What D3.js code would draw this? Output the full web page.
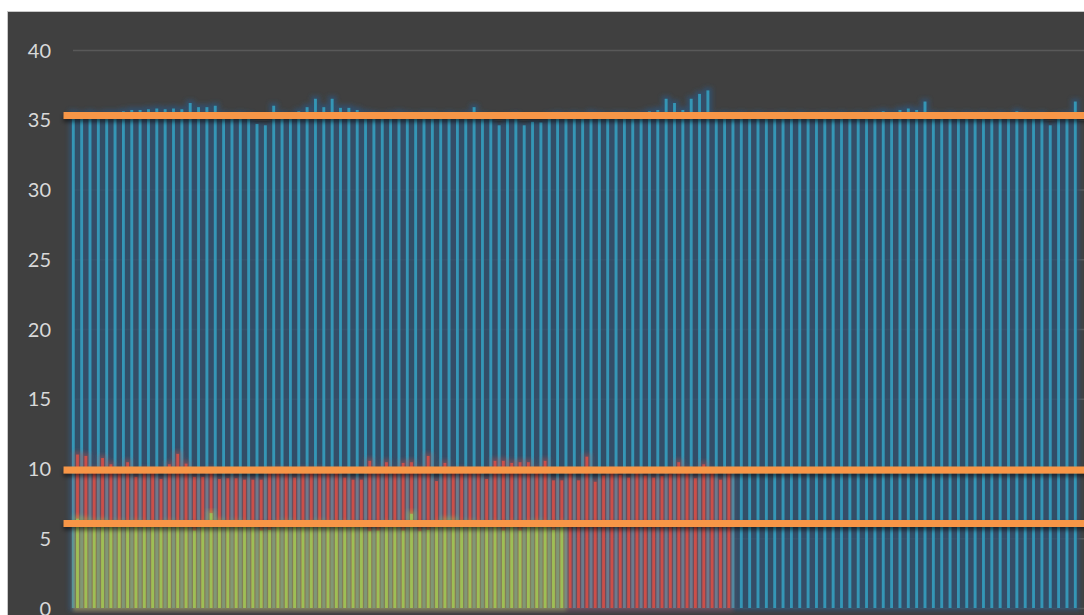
<!DOCTYPE html>
<html lang="en">
<head>
<meta charset="UTF-8">
<title>Bars with reference levels</title>
<script src="https://cdn.jsdelivr.net/npm/d3@7"></script>
<style>
    html, body {
        margin: 0;
        padding: 0;
        background: #ffffff;
        overflow: hidden;
    }
    .tick text {
        font-family: Lato, "Open Sans", sans-serif;
        font-size: 20px;
        fill: #d9d9d9;
    }
</style>
</head>
<body>
<div id="chart"></div>
<script>
    // values
    const blueValues = [
        35.5, 35.4, 35.5, 35.4, 35.5, 35.5, 35.6, 35.7, 35.7, 35.75,
        35.8, 35.75, 35.8, 35.75, 36.2, 35.9, 35.9, 36.0, 35.4, 35.3,
        35.4, 35.3, 34.7, 34.6, 36.0, 35.4, 35.3, 35.6, 35.9, 36.5,
        35.9, 36.5, 35.85, 35.85, 35.7, 35.5, 35.4, 35.3, 35.4, 35.5,
        35.4, 35.3, 35.4, 35.4, 35.3, 35.4, 35.3, 35.4, 35.9, 35.3,
        35.2, 34.6, 35.2, 35.3, 34.6, 34.85, 34.8, 35.3, 35.4, 35.3,
        35.4, 35.3, 35.5, 35.4, 35.3, 35.4, 35.4, 35.3, 35.4, 35.6,
        35.7, 36.5, 36.2, 35.7, 36.5, 36.85, 37.1, 35.3, 35.4, 35.3,
        35.4, 35.3, 35.4, 35.3, 35.3, 35.4, 35.3, 35.4, 35.3, 35.3,
        35.4, 35.3, 35.4, 35.3, 35.4, 35.3, 35.5, 35.6, 35.5, 35.7,
        35.8, 35.7, 36.3, 35.4, 35.3, 35.4, 35.3, 35.4, 35.3, 35.4,
        35.3, 35.4, 35.3, 35.6, 35.4, 35.3, 35.4, 34.6, 35.3, 35.4,
        36.3
    ];
    const redValues = [
        11.0, 10.9, 9.9, 10.75, 10.3, 9.8, 10.45, 9.4, 9.9, 9.8,
        9.25, 10.3, 11.05, 10.35, 9.4, 9.4, 9.9, 9.25, 9.3, 9.3,
        9.2, 9.2, 9.2, 9.8, 9.9, 9.8, 9.35, 9.9, 9.8, 9.9,
        9.7, 9.8, 9.35, 9.2, 9.2, 10.55, 9.9, 10.45, 9.8, 10.4,
        10.45, 9.9, 10.9, 9.1, 10.4, 9.8, 9.9, 9.7, 9.8, 9.25,
        10.55, 10.55, 10.4, 10.45, 10.45, 9.9, 10.55, 9.15, 9.15, 9.8,
        9.15, 10.85, 9.05, 9.5, 9.8, 9.55, 9.35, 9.8, 9.5, 9.35,
        9.45, 9.6, 10.45, 9.9, 9.3, 10.3, 9.8, 9.2, 9.8
    ];
    const greenValues = [
        6.4, 6.3, 6.1, 6.2, 6.0, 6.1, 6.0, 6.1, 6.0, 5.9,
        6.0, 6.1, 6.0, 5.9, 5.55, 6.0, 6.8, 6.2, 6.0, 6.1,
        6.0, 5.9, 5.55, 5.6, 6.0, 6.1, 6.0, 5.9, 6.0, 6.1,
        6.0, 5.9, 6.0, 5.9, 5.8, 5.5, 5.55, 6.0, 5.9, 5.55,
        6.75, 5.5, 5.6, 6.0, 6.3, 6.3, 6.0, 6.1, 6.0, 5.9,
        6.0, 5.55, 6.0, 5.55, 6.0, 6.1, 6.0, 5.6, 6.0
    ];
    const refLevels = [35.3, 9.9, 6.05];
    const yTicks = [0, 5, 10, 15, 20, 25, 30, 35, 40];
    const categoryCount = 122;

    const width = 1084, height = 615;
    const margin = {left: 69, top: 50, bottom: 7};

    const svg = d3.select("#chart").append("svg")
        .attr("width", width)
        .attr("height", height);

    const defs = svg.append("defs");

    // excel style glow round each series
    function glow(id, color, opacity) {
        const f = defs.append("filter").attr("id", id)
            .attr("x", "-5%").attr("y", "-5%").attr("width", "110%").attr("height", "110%");
        f.append("feMorphology").attr("in", "SourceAlpha").attr("operator", "dilate")
            .attr("radius", 2.6).attr("result", "d");
        f.append("feGaussianBlur").attr("in", "d").attr("stdDeviation", 2.2).attr("result", "b");
        f.append("feFlood").attr("flood-color", color).attr("flood-opacity", opacity);
        f.append("feComposite").attr("in2", "b").attr("operator", "in").attr("result", "g");
        const m = f.append("feMerge");
        m.append("feMergeNode").attr("in", "g");
        m.append("feMergeNode").attr("in", "SourceGraphic");
    }
    glow("glowBlue", "#31506f", 0.85);
    glow("glowRed", "#c0504d", 0.4);
    glow("glowGreen", "#9bbb59", 0.45);

    const shadow = defs.append("filter").attr("id", "lineShadow")
        .attr("x", "-5%").attr("y", "-100%").attr("width", "110%").attr("height", "400%");
    shadow.append("feDropShadow").attr("dx", 0).attr("dy", 3)
        .attr("stdDeviation", 2).attr("flood-color", "#000").attr("flood-opacity", 0.55);

    // chart area
    svg.append("rect")
        .attr("x", 7.5).attr("y", 11.5)
        .attr("width", width).attr("height", height)
        .attr("fill", "#404040")
        .attr("stroke", "#c8c8c8");

    const step = 8.35;
    const x = d3.scaleBand()
        .domain(d3.range(categoryCount))
        .range([margin.left, margin.left + categoryCount * step]);

    const y = d3.scaleLinear()
        .domain([0, 40])
        .range([height - margin.bottom, margin.top]);

    // axis + grid
    const yAxis = svg.append("g")
        .attr("transform", `translate(${x(0) + 4},0)`)
        .call(d3.axisLeft(y).tickValues(yTicks).tickSize(-(width - x(0))).tickPadding(22));
    yAxis.select(".domain").remove();
    yAxis.selectAll(".tick line").attr("stroke", "#595959").attr("stroke-width", 1.3);
    yAxis.selectAll(".tick text").attr("dy", "0.35em");

    const barW = 2.8;

    function bars(values, cls, color, filter, offset) {
        svg.append("g")
            .attr("filter", `url(#${filter})`)
            .selectAll("rect." + cls)
            .data(values)
            .join("rect")
            .attr("class", cls)
            .attr("x", (d, i) => x(i) + offset)
            .attr("y", d => y(d))
            .attr("width", barW)
            .attr("height", d => y(0) - y(d))
            .attr("fill", color);
    }

    bars(blueValues, "blue", "#3496b6", "glowBlue", 2.9);
    bars(redValues, "red", "#cb4f4a", "glowRed", 7.1);
    bars(greenValues, "green", "#9dbf55", "glowGreen", 7.1);

    // reference levels
    svg.append("g")
        .attr("filter", "url(#lineShadow)")
        .selectAll("line")
        .data(refLevels)
        .join("line")
        .attr("x1", x(0) - step * 0.65)
        .attr("x2", width + 10)
        .attr("y1", d => y(d))
        .attr("y2", d => y(d))
        .attr("stroke", "#f79646")
        .attr("stroke-width", 7);
</script>
</body>
</html>
